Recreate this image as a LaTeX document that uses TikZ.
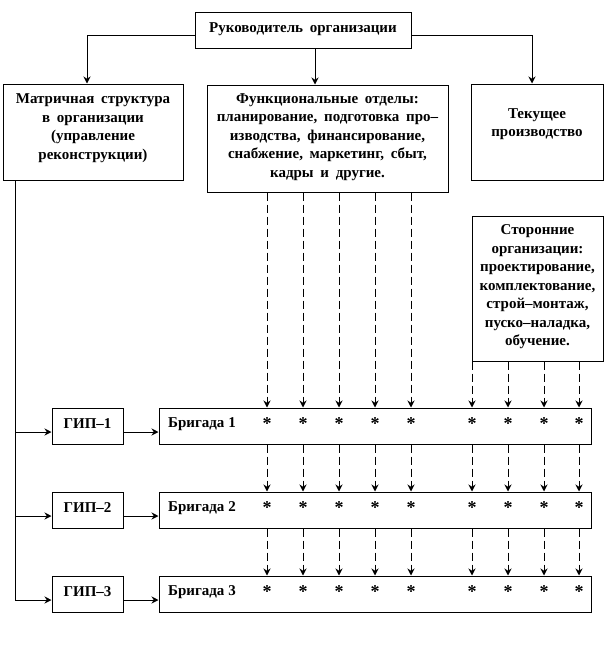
\documentclass[tikz,border=0pt]{standalone}
\usepackage{fontspec}
\setmainfont[WordSpace=1.8]{Liberation Serif}
\usetikzlibrary{arrows.meta,calc}
\begin{document}
\begin{tikzpicture}[x=1pt,y=-1pt,
  box/.style={draw,line width=1pt,inner sep=0pt},
  txt/.style={font=\fontsize{15}{18.5}\selectfont\bfseries,align=center,inner sep=0pt},
  arr/.style={line width=1pt,-{Stealth[length=7pt,width=7pt]}},
  darr/.style={arr,dash pattern=on 8pt off 4pt},
  star/.style={font=\fontsize{18}{18}\selectfont\bfseries,inner sep=0pt}]
\fill[white] (0,0) rectangle (615,648);
\useasboundingbox (0,0) rectangle (615,648);
% boxes
\node[box,minimum width=216,minimum height=36] (top) at (303,30) {};
\node[txt] (toptxt) at (303,29) {Руководитель организации};
\node[box,minimum width=180,minimum height=96] (matr) at (93,132) {};
\node[txt] (matrtxt) at (93,128) {Матричная структура\\в организации\\(управление\\реконструкции)};
\node[box,minimum width=241,minimum height=107] (func) at (327.5,138.5) {};
\node[txt] (functxt) at (327.5,137) {Функциональные отделы:\\планирование, подготовка про–\\изводства, финансирование,\\снабжение, маркетинг, сбыт,\\кадры и другие.};
\node[box,minimum width=132,minimum height=96] (cur) at (537,132) {};
\node[txt] (curtxt) at (537,124) {Текущее\\производство};
\node[box,minimum width=131,minimum height=145] (third) at (537.5,288.5) {};
\node[txt] (thirdtxt) at (537.5,287) {Сторонние\\организации:\\проектирование,\\комплектование,\\строй–монтаж,\\пуско–наладка,\\обучение.};
\foreach \i/\y in {1/426,2/510,3/594}{
  \node[box,minimum width=71,minimum height=36] (gip\i) at (87.5,\y) {};
  \node[txt] (giptxt\i) at (87.5,\y-2) {ГИП–\i};
  \node[box,minimum width=432,minimum height=36] (b\i) at (375,\y) {};
  \node[txt,anchor=west] (btxt\i) at (168,\y-2) {Бригада\hspace{4pt}\i};
}
% top connectors
\coordinate (xm) at (87,0);
\coordinate (xf) at (315,0);
\coordinate (xc) at (532,0);
\draw[arr] ([yshift=-5pt]top.west) -| (xm |- matr.north);
\draw[arr] (xf |- top.south) -- (xf |- func.north);
\draw[arr] ([yshift=-5pt]top.east) -| (xc |- cur.north);
% left trunk
\coordinate (xt) at (15,0);
\foreach \i in {1,2,3}{
  \coordinate (g\i) at ([yshift=-6pt]gip\i.west);
  \coordinate (h\i) at ([yshift=-6pt]gip\i.east);
}
\draw[line width=1pt] (xt |- matr.south) -- (g3 -| xt);
\foreach \i in {1,2,3}{
  \draw[arr] (g\i -| xt) -- (g\i);
  \draw[arr] (h\i) -- (h\i -| b\i.west);
}
% columns
\foreach \x [count=\i] in {267,303,339,375,411,472,508,544,579}{
  \coordinate (c\i) at (\x,0);
}
\foreach \i in {1,...,5}{
  \draw[darr] (c\i |- func.south) -- (c\i |- b1.north);
}
\foreach \i in {6,...,9}{
  \draw[darr] (c\i |- third.south) -- (c\i |- b1.north);
}
\foreach \i in {1,...,9}{
  \draw[darr] (c\i |- b1.south) -- (c\i |- b2.north);
  \draw[darr] (c\i |- b2.south) -- (c\i |- b3.north);
  \foreach \j in {1,2,3}{
    \node[star,yshift=2pt] (s\i-\j) at (c\i |- b\j.center) {*};
  }
}
\end{tikzpicture}
\end{document}
